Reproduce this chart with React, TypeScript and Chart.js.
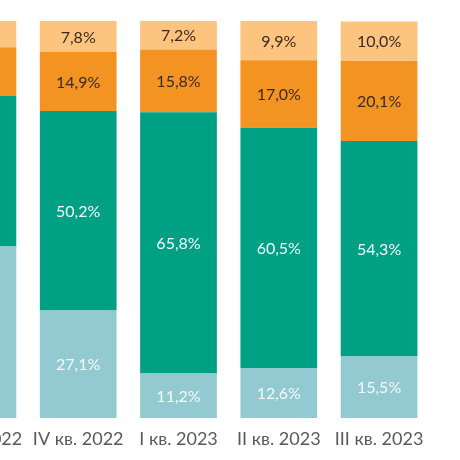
import React, { useEffect, useRef } from "react";
import { Chart, registerables } from "chart.js";

Chart.register(...registerables);

const categories = ["III кв. 2022", "IV кв. 2022", "I кв. 2023", "II кв. 2023", "III кв. 2023"];
const seriesLightBlue = [43.3, 27.1, 11.2, 12.6, 15.5];
const seriesTeal = [37.8, 50.2, 65.8, 60.5, 54.3];
const seriesOrange = [12.3, 14.9, 15.8, 17.0, 20.1];
const seriesLightOrange = [6.6, 7.8, 7.2, 9.9, 10.0];

const fmt = (v: number) => v.toFixed(1).replace(".", ",") + "%";

const labelPlugin = {
  id: "segLabels",
  afterDatasetsDraw(chart: any) {
    const ctx = chart.ctx;
    ctx.save();
    ctx.font = "16px Lato";
    ctx.textAlign = "center";
    ctx.textBaseline = "middle";
    chart.data.datasets.forEach((ds: any, di: number) => {
      const meta = chart.getDatasetMeta(di);
      meta.data.forEach((el: any, i: number) => {
        const v = ds.data[i];
        const cy = (el.y + el.base) / 2;
        ctx.fillStyle = ds.labelColor;
        ctx.fillText(fmt(v), el.x, cy + 1);
      });
    });
    ctx.restore();
  },
};

export default function App() {
  const ref = useRef<HTMLCanvasElement | null>(null);
  useEffect(() => {
    if (!ref.current) return;
    const chart = new Chart(ref.current, {
      type: "bar",
      data: {
        labels: categories,
        datasets: [
          { label: "a", data: seriesLightBlue, backgroundColor: "#93C9D1", labelColor: "#F4FAFA" } as any,
          { label: "b", data: seriesTeal, backgroundColor: "#00A084", labelColor: "#F4FAFA" } as any,
          { label: "c", data: seriesOrange, backgroundColor: "#F39422", labelColor: "#3B2A1E" } as any,
          { label: "d", data: seriesLightOrange, backgroundColor: "#FCC47E", labelColor: "#3B2A1E" } as any,
        ],
      },
      options: {
        responsive: false,
        animation: false,
        devicePixelRatio: 1,
        layout: { padding: { top: 21, left: 0, right: 0, bottom: 0 } },
        plugins: { legend: { display: false }, tooltip: { enabled: false } },
        datasets: { bar: { categoryPercentage: 1, barPercentage: 0.765, borderWidth: 0 } },
        scales: {
          x: {
            stacked: true,
            grid: { display: false, drawTicks: false },
            border: { display: false },
            ticks: { autoSkip: false, maxRotation: 0, padding: 10, color: "#595959", font: { family: "Lato", size: 18 } },
            afterFit: (s: any) => { s.height = 42; },
          },
          y: { stacked: true, display: false, min: 0, max: 100 },
        },
      },
      plugins: [labelPlugin],
    });
    return () => chart.destroy();
  }, []);
  return (
    <div style={{ position: "fixed", left: 0, top: 0, width: 460, height: 460, overflow: "hidden", background: "#fff" }}>
      <canvas ref={ref} width={509} height={460} style={{ position: "absolute", left: -76, top: 0 }} />
    </div>
  );
}
